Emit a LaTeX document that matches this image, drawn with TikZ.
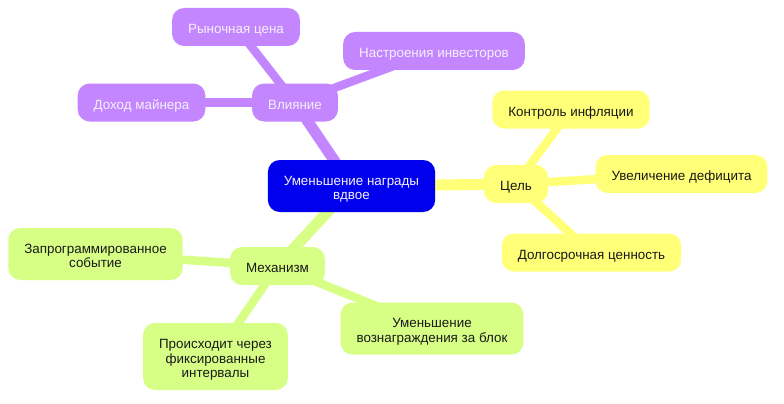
\documentclass[tikz,border=0pt]{standalone}
\usepackage{fontspec}
\setmainfont{Liberation Sans}
\definecolor{rootc}{HTML}{0000EC}
\definecolor{purp}{HTML}{C386FF}
\definecolor{yel}{HTML}{FFFF78}
\definecolor{grn}{HTML}{D7FF86}
\definecolor{ptext}{HTML}{F4F0FA}
\newcommand\mlines[1]{\vbox{\baselineskip=14.5pt\lineskiplimit=-20pt\halign{\hfil##\hfil\cr#1\crcr}}}
\pgfdeclarelayer{bgl}
\pgfdeclarelayer{edgel}
\pgfsetlayers{bgl,edgel,main}
\begin{document}
\begin{tikzpicture}[x=1pt,y=-1pt,
  mm/.style={rounded corners=12pt, inner xsep=16pt, inner ysep=2pt,
    minimum height=38pt, text height=13.2pt, text depth=0pt,
    font=\fontsize{13.4pt}{14.5pt}\selectfont},
  twol/.style={minimum height=52pt, text height=27.7pt},
  threel/.style={minimum height=67pt, text height=42.2pt},
  rootn/.style={mm, fill=rootc, text=ptext},
  pn/.style={mm, fill=purp, text=ptext},
  yn/.style={mm, fill=yel, text=black!90},
  gn/.style={mm, fill=grn, text=black!90},
  e0/.style={line width=11pt},
  e1/.style={line width=8.5pt}]
\useasboundingbox (0,0) rectangle (784,404);
\begin{pgfonlayer}{bgl}
\fill[white] (0,0) rectangle (784,404);
\end{pgfonlayer}
% nodes
\node[rootn, twol] (root) at (351.5,186) {\mlines{Уменьшение награды\cr вдвое}};
\node[pn] (vl) at (295,102.5) {Влияние};
\node[pn] (ry) at (236,27) {Рыночная цена};
\node[pn] (na) at (434,51) {Настроения инвесторов};
\node[pn] (do) at (141.5,102.5) {Доход майнера};
\node[yn] (ce) at (516,184) {Цель};
\node[yn] (ko) at (571,109.5) {Контроль инфляции};
\node[yn] (uv) at (681.5,174) {Увеличение дефицита};
\node[yn] (dl) at (591.5,252.5) {Долгосрочная ценность};
\node[gn] (me) at (277.5,266) {Механизм};
\node[gn, twol] (za) at (95.5,254) {\mlines{Запрограммированное\cr событие}};
\node[gn, twol] (um) at (432,328.5) {\mlines{Уменьшение\cr вознаграждения за блок}};
\node[gn, threel] (pr) at (215.5,356.5) {\mlines{Происходит через\cr фиксированные\cr интервалы}};
% edges behind nodes
\begin{pgfonlayer}{edgel}
\draw[e0, purp] (root.center) -- (vl.center);
\draw[e1, purp] (vl.center) -- (ry.center);
\draw[e1, purp] (vl.center) -- (na.center);
\draw[e1, purp] (vl.center) -- (do.center);
\draw[e0, yel] (root.center) -- (ce.center);
\draw[e1, yel] (ce.center) -- (ko.center);
\draw[e1, yel] (ce.center) -- (uv.center);
\draw[e1, yel] (ce.center) -- (dl.center);
\draw[e0, grn] (root.center) -- (me.center);
\draw[e1, grn] (me.center) -- (za.center);
\draw[e1, grn] (me.center) -- (um.center);
\draw[e1, grn] (me.center) -- (pr.center);
\end{pgfonlayer}
\end{tikzpicture}
\end{document}
